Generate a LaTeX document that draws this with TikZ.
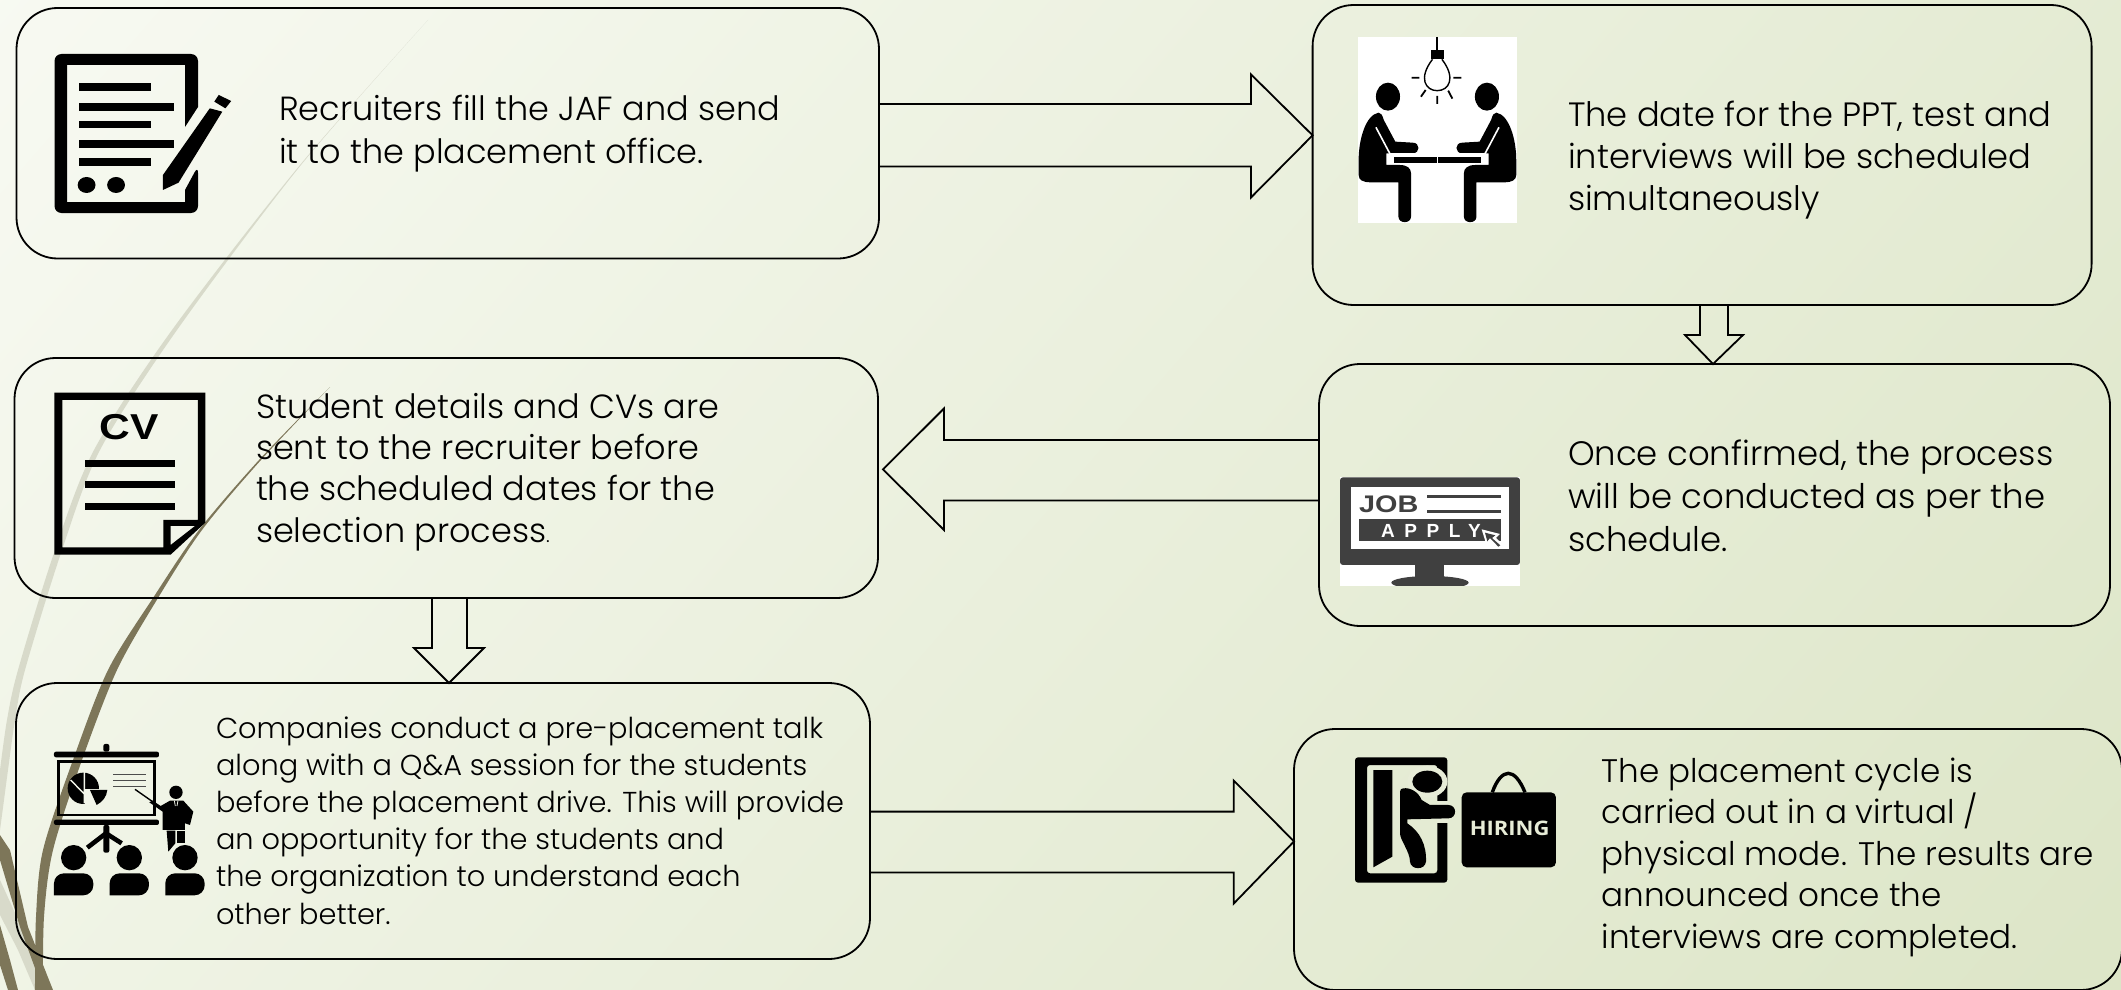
\documentclass[tikz,border=0pt]{standalone}
\usepackage{fontspec}
\setmainfont{Poppins Light}
\newfontfamily\ls{Liberation Sans}
\newfontfamily\os{Open Sans}
\lineskiplimit=-100pt
\definecolor{wdark}{HTML}{7D7659}
\definecolor{wlight}{HTML}{D8DACA}
\definecolor{bgA}{HTML}{FCFDF9}
\definecolor{bgM}{HTML}{EFF3E3}
\definecolor{bgB}{HTML}{D8E2C0}
\definecolor{jobgrey}{HTML}{404040}
\definecolor{haloA}{HTML}{F7F9F3}
\definecolor{haloB}{HTML}{F2F5E9}
\definecolor{haloC}{HTML}{E7ECD7}
\tikzset{
  box/.style={draw=black,line width=1.8pt,rounded corners=41pt,inner sep=0pt,outer sep=0pt},
  blockar/.style={draw=black,line width=1.8pt,line join=miter},
  para/.style={anchor=base west,inner sep=0pt,outer sep=0pt},
  ztwo/.style={x=.5236pt,y=-.3333pt},
  zdoc/.style={x=.4464pt,y=-.3333pt},
  zthree/.style={x=.3333pt,y=-.3333pt},
}
\newcommand\tblperson{%
  \fill (168,290) ellipse [x radius=23,y radius=42];
  \fill (150,338) .. controls (125,345) and (112,420) .. (112,480) -- (112,525)
    .. controls (112,540) and (120,547) .. (135,547) -- (188,547) -- (188,650)
    .. controls (188,672) and (212,672) .. (212,650) -- (212,520)
    .. controls (212,505) and (205,495) .. (190,495) -- (165,495) -- (165,460) -- (215,460)
    .. controls (230,460) and (230,428) .. (215,428) -- (182,425) -- (160,360)
    .. controls (157,345) and (155,338) .. (150,338) -- cycle;
  \draw[white,line width=1.6pt] (145,382) -- (172,462) -- (262,462);
  \fill (180,472) rectangle (262,488);
}
\begin{document}
\begin{tikzpicture}[x=1pt,y=-1pt]
\useasboundingbox (0,0) rectangle (2121,990);
\begin{scope}
\clip (0,0) rectangle (2121,990);
\shade[top color=bgA,middle color=bgM,bottom color=bgB,shading angle=49] (-440,-1005) rectangle (2560,1995);
% wisps
\fill[wlight] plot[smooth] coordinates {(428,20) (300,165) (172,330) (94,450) (54,553) (18,670) (7,720) (0,770)}
  -- (-4,800) -- (0,830) -- plot[smooth] coordinates {(4,800) (8,770) (15,720) (25,670) (61,553) (100,450) (177,330) (301,165) (428,20)} -- cycle;
\fill[wlight] (0,880) -- (32,950) -- (43,990) -- (35,990) -- (18,950) -- (0,915) -- cycle;
\fill[wdark] plot[smooth] coordinates {(330,387) (259,460) (199,530) (153,598) (108,670) (73,760) (43,850) (36,917) (35,992)}
  -- plot[smooth] coordinates {(43,992) (44,917) (53,850) (82,760) (117,670) (158,598) (202,530) (261,460) (330,387)} -- cycle;
\fill[wdark] (0,835) -- (10,850) -- (28,927) -- (53,990) -- (43,990) -- (20,927) -- (0,860) -- cycle;
\fill[wdark] (0,925) -- (10,960) -- (18,990) -- (8,990) -- (0,965) -- cycle;
% boxes
\node[box,minimum width=862.5pt,minimum height=250.5pt] (b1) at (447.75,133.25) {};
\node[box,minimum width=779pt,minimum height=300pt] (b2) at (1702.1,155) {};
\node[box,minimum width=863.5pt,minimum height=240pt] (b3) at (446.25,478) {};
\node[box,minimum width=791pt,minimum height=262pt] (b4) at (1714.5,495) {};
\node[box,minimum width=854pt,minimum height=276pt] (b5) at (443,821) {};
\node[box,minimum width=828pt,minimum height=261pt] (b6) at (1708,859.5) {};
% block arrows
\draw[blockar] (b1.east |- 0,104) -- (1251,104) -- (1251,74.4) -- (b2.west |- 0,135.3) -- (1251,197.5) -- (1251,166.4) -- (b1.east |- 0,166.4);
\draw[blockar] (1700,0 |- b2.south) -- (1700,335) -- (1685,335) -- (1713,0 |- b4.north) -- (1743,335) -- (1728,335) -- (1728,0 |- b2.south);
\draw[blockar] (b4.west |- 0,440) -- (944,440) -- (944,408.5) -- (883,469.4) -- (944,530) -- (944,500.5) -- (b4.west |- 0,500.5);
\draw[blockar] (432,0 |- b3.south) -- (432,648) -- (414,648) -- (449,0 |- b5.north) -- (484,648) -- (467,648) -- (467,0 |- b3.south);
\draw[blockar] (b5.east |- 0,811.6) -- (1233.7,811.6) -- (1233.7,780.5) -- (b6.west |- 0,841.4) -- (1233.7,903.6) -- (1233.7,872.5) -- (b5.east |- 0,872.5);
% texts
\node[para] (t1) at (279,121) {\fontsize{33.5}{43}\selectfont\vtop{\hbox{Recruiters fill the JAF and send}\hbox{it to the placement office.}}};
\node[para] (t2) at (1568,126) {\fontsize{33.7}{42.5}\selectfont\vtop{\hbox{The date for the PPT, test and}\hbox{interviews will be scheduled}\hbox{simultaneously}}};
\node[para] (t3) at (256,418) {\fontsize{33.5}{41.4}\selectfont\vtop{\hbox{Student details and CVs are}\hbox{sent to the recruiter before}\hbox{the scheduled dates for the}\hbox{selection process{\fontsize{20}{20}\selectfont.}}}};
\node[para] (t4) at (1568,465) {\fontsize{33.9}{43}\selectfont\vtop{\hbox{Once confirmed, the process}\hbox{will be conducted as per the}\hbox{schedule.}}};
\node[para] (t5) at (216,738) {\fontsize{28.8}{37.2}\selectfont\vtop{\hbox{Companies conduct a pre-placement talk}\hbox{along with a Q\&A session for the students}\hbox{before the placement drive. This will provide}\hbox{an opportunity for the students and}\hbox{the organization to understand each}\hbox{other better.}}};
\node[para] (t6) at (1601.6,782) {\fontsize{32.6}{41.5}\selectfont\vtop{\hbox{The placement cycle is}\hbox{carried out in a virtual /}\hbox{physical mode. The results are}\hbox{announced once the}\hbox{interviews are completed.}}};
% document icon
\fill[black,rounded corners=7pt] (198,107) -- (198,54) -- (54.5,54) -- (54.5,213) -- (198,213) -- (198,166) [sharp corners] -- (185,190) -- (185,202) -- (67,202) -- (67,65) -- (185,65) -- (185,127) -- cycle;
\begin{scope}[zdoc]
\fill (176,250) rectangle (338,272);
\fill (176,308) rectangle (390,332);
\fill (176,362) rectangle (338,385);
\fill (176,420) rectangle (390,444);
\fill (176,475) rectangle (338,497);
\fill (194,555) ellipse [x radius=20,y radius=24];
\fill (260,555) ellipse [x radius=20,y radius=24];
\fill (365,525) -- (470,325) -- (498,335) -- (400,548) -- (365,570) -- cycle;
\fill (480,305) -- (490,285) -- (518,303) -- (505,325) -- cycle;
\end{scope}
% table icon
\fill[white] (1358,37) rectangle (1517,223);
\begin{scope}[shift={(1300,0)},ztwo]
\draw[line width=2pt] (262,111) -- (262,150);
\fill (250,150) rectangle (275,178);
\draw[line width=1.4pt] (253,178) .. controls (225,235) and (240,272) .. (262,272) .. controls (284,272) and (299,235) .. (271,178);
\draw[line width=1.8pt] (213,233) -- (228,233) (293,233) -- (308,233) (262,288) -- (262,312) (240,270) -- (231,290) (283,272) -- (291,296);
\tblperson
\begin{scope}[shift={(525,0)},xscale=-1]
\tblperson
\end{scope}
\end{scope}
% CV icon
\begin{scope}[shift={(0,340)},zthree]
\fill[even odd rule] (163,158) -- (616,158) -- (616,548) -- (512,644) -- (163,644) -- cycle
  (187,180) -- (594,180) -- (594,540) -- (490,540) -- (490,622) -- (187,622) -- cycle
  (512,558) -- (585,558) -- (512,615) -- cycle;
\fill (255,360) rectangle (525,381);
\fill (255,424) rectangle (525,445);
\fill (255,488) rectangle (525,509);
\node[inner sep=0pt] (cvt) at (388,262) {\ls\bfseries\fontsize{36}{36}\selectfont\scalebox{1.18}[1]{CV}};
\end{scope}
% presentation icon
\begin{scope}[shift={(0,670)},zthree]
\fill[rounded corners=2pt] (162,245) rectangle (477,262);
\fill[rounded corners=2pt] (310,222) rectangle (328,245);
\draw[line width=2.6pt] (176,275) rectangle (464,435);
\fill[rounded corners=2pt] (162,449) rectangle (477,465);
\fill[rounded corners=2pt] (310,465) rectangle (328,548);
\draw[line width=4.6pt] (318,490) -- (262,533) (318,490) -- (365,520);
\fill (250,355) circle [radius=47];
\fill[haloB] (255,358) rectangle (300,405);
\draw[haloB,line width=1.4pt] (212,330) -- (280,400) (253,305) -- (253,400);
\fill (270,360) -- (322,360) .. controls (320,380) and (308,395) .. (290,405) -- cycle;
\draw[line width=1.2pt,black!70] (340,314) -- (438,314) (340,331) -- (438,331) (340,350) -- (438,350);
\draw[line width=1.4pt] (405,358) -- (465,400);
\fill (528,367) circle [radius=20];
\fill (448,397) -- (458,392) -- (482,408) -- (510,392) -- (550,392) -- (580,425) -- (570,465) -- (555,460) -- (555,480) -- (488,480) -- (488,425) -- cycle;
\draw[haloB,line width=.8pt] (523,392) -- (526,408) (534,392) -- (531,408);
\fill (500,482) -- (526,482) -- (526,520) -- (505,545) -- cycle;
\fill (532,482) -- (556,482) -- (556,520) -- (532,520) -- cycle;
\foreach \c in {221,388,555}{
  \fill (\c,563) circle [radius=38];
  \fill[rounded corners=10pt] (\c-59,676) -- (\c-59,610) -- (\c+59,610) -- (\c+59,676) [sharp corners] -- cycle;
}
\end{scope}
% job apply icon
\fill[white] (1340,477) rectangle (1520,586);
\begin{scope}[shift={(1300,450)},zthree]
\begin{scope}
\clip (120,80) rectangle (660,408);
\fill[jobgrey] (390,398) ellipse [x radius=116,y radius=20];
\end{scope}
\fill[jobgrey] (345,340) rectangle (433,385);
\fill[jobgrey,rounded corners=3pt] (120,82) rectangle (660,345);
\fill[white] (153,110) rectangle (627,298);
\fill[jobgrey] (380,135) rectangle (603,143);
\fill[jobgrey] (380,180) rectangle (603,188);
\fill[jobgrey] (177,208) rectangle (603,272);
\node[anchor=base west,inner sep=0pt,text=jobgrey] (jt) at (177,187) {\ls\bfseries\fontsize{24}{24}\selectfont\scalebox{1.2}[1]{JOB}};
\node[anchor=base west,inner sep=0pt,text=white] (at) at (243,262) {\ls\bfseries\fontsize{19}{19}\selectfont\addfontfeature{LetterSpace=50}APPLY};
\fill[white] (545,238) -- (600,252) -- (588,264) -- (612,286) -- (596,296) -- (572,272) -- (560,286) -- cycle;
\fill[jobgrey] (555,248) -- (586,256) -- (576,264) -- (601,286) -- (595,290) -- (570,264) -- (562,274) -- cycle;
\end{scope}
% door and hiring icon
\begin{scope}[shift={(1320,730)},zthree]
\fill[even odd rule,rounded corners=3pt] (105,82) rectangle (382,458) (141,105) rectangle (352,430);
\fill[haloC] (352,212) rectangle (384,280);
\fill[haloC] (322,155) ellipse [x radius=60,y radius=48];
\fill (322,155) ellipse [x radius=45,y radius=33];
\fill (160,120) -- (217,120) -- (217,380) -- (160,412) -- cycle;
\fill (250,175) .. controls (270,172) and (295,185) .. (305,210) -- (330,225) -- (385,225)
  .. controls (412,225) and (412,265) .. (385,265) -- (262,268) -- (262,280)
  .. controls (300,305) and (320,345) .. (318,395) .. controls (315,422) and (272,420) .. (270,395)
  .. controls (270,365) and (240,330) .. (240,310) -- (240,185) .. controls (240,178) and (245,175) .. (250,175) -- cycle;
\fill[rounded corners=5pt] (425,187) rectangle (708,412);
\draw[line width=3.4pt] (517,187) .. controls (530,150) and (548,130) .. (565,130) .. controls (582,130) and (600,150) .. (615,187);
\node[inner sep=0pt,text=haloC] (ht) at (569,296) {\os\bfseries\fontsize{20}{20}\selectfont\scalebox{1.1}[1]{HIRING}};
\end{scope}
\end{scope}
\end{tikzpicture}
\end{document}
